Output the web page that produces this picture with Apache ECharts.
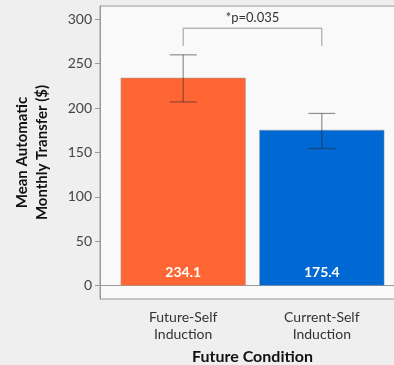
<!DOCTYPE html>
<html><head><meta charset="utf-8">
<script src="https://cdn.jsdelivr.net/npm/echarts@6/dist/echarts.min.js"></script>
<style>html,body{margin:0;padding:0;background:#efefef;}#c{width:394px;height:365px;}</style>
</head><body><div id="c"></div>
<script>
const categories = ['Future-Self\nInduction', 'Current-Self\nInduction'];
const means = [234.1, 175.4];
const errLow = [207, 154.5];
const errHigh = [260, 194];
const barColors = ['#FF6633', '#0068D2'];
const yTicks = [0, 50, 100, 150, 200, 250, 300];
const sigLabel = '*p=0.035';
const sigBracket = [290, 270];

const font = 'Lato, "Noto Sans", sans-serif';
const chart = echarts.init(document.getElementById('c'));
const xPos = categories.map((c, i) => i + 1);

chart.setOption({
  animation: false,
  grid: { left: 100, width: 305, top: 6, height: 293, outerBoundsMode: 'none', containLabel: false,
    show: true, backgroundColor: '#f9f9f9', borderColor: '#9a9a9a', borderWidth: 1 },
  xAxis: {
    type: 'value', min: 0.4, max: 2.6,
    name: 'Future Condition', nameLocation: 'middle', nameGap: 50,
    nameTextStyle: { fontFamily: font, fontSize: 16, fontWeight: 'bold', color: '#111' },
    axisLine: { show: true, lineStyle: { color: '#9a9a9a' } },
    axisTick: { show: false },
    splitLine: { show: false },
    axisLabel: { customValues: xPos, fontFamily: font, fontSize: 14, color: '#333', lineHeight: 17, margin: 10,
      formatter: v => categories[Math.round(v) - 1] || '' }
  },
  yAxis: {
    type: 'value', min: -15, max: 315,
    name: 'Mean Automatic\nMonthly Transfer ($)', nameLocation: 'middle', nameGap: 48,
    nameTextStyle: { fontFamily: font, fontSize: 15, fontWeight: 'bold', color: '#111', lineHeight: 20 },
    axisLine: { show: true, lineStyle: { color: '#9a9a9a' } },
    axisTick: { show: true, customValues: yTicks, length: 5, lineStyle: { color: '#9a9a9a' } },
    splitLine: { show: false },
    axisLabel: { customValues: yTicks, fontFamily: font, fontSize: 14, color: '#444', margin: 8 }
  },
  series: [
    {
      type: 'bar', barWidth: 125,
      data: means.map((m, i) => ({ value: [xPos[i], m], itemStyle: { color: barColors[i], borderColor: '#999', borderWidth: 0.5 } })),
      label: { show: true, position: 'insideBottom', distance: 6, color: '#fff', fontFamily: font, fontSize: 14, fontWeight: 'bold',
        formatter: p => p.value[1].toFixed(1) }
    },
    {
      type: 'custom',
      data: means.map((m, i) => [xPos[i], errLow[i], errHigh[i]]),
      renderItem: (params, api) => {
        const lo = api.coord([api.value(0), api.value(1)]);
        const hi = api.coord([api.value(0), api.value(2)]);
        const hw = 13.5;
        const style = { stroke: 'rgba(40,40,40,0.5)', lineWidth: 1.2 };
        return { type: 'group', children: [
          { type: 'line', shape: { x1: lo[0], y1: lo[1], x2: hi[0], y2: hi[1] }, style },
          { type: 'line', shape: { x1: lo[0] - hw, y1: lo[1], x2: lo[0] + hw, y2: lo[1] }, style },
          { type: 'line', shape: { x1: hi[0] - hw, y1: hi[1], x2: hi[0] + hw, y2: hi[1] }, style }
        ]};
      },
      z: 5
    },
    {
      type: 'custom',
      data: [[xPos[0], xPos[1], sigBracket[0], sigBracket[1]]],
      renderItem: (params, api) => {
        const a = api.coord([api.value(0), api.value(3)]);
        const b = api.coord([api.value(0), api.value(2)]);
        const c = api.coord([api.value(1), api.value(2)]);
        const d = api.coord([api.value(1), api.value(3)]);
        return { type: 'group', children: [
          { type: 'polyline', shape: { points: [a, b, c, d] }, style: { stroke: '#999', lineWidth: 1, fill: null } },
          { type: 'text', x: (b[0] + c[0]) / 2, y: b[1] - 4,
            style: { text: sigLabel, fontFamily: font, fontSize: 13, fill: '#333', align: 'center', verticalAlign: 'bottom' } }
        ]};
      },
      z: 6
    }
  ]
});
</script></body></html>
